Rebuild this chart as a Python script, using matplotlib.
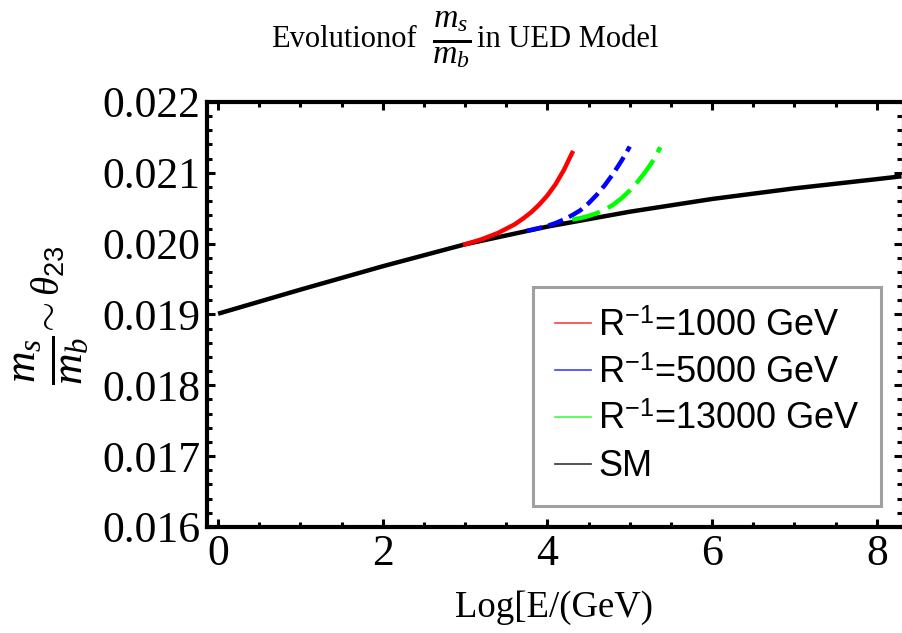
import matplotlib
matplotlib.use("Agg")
import matplotlib.pyplot as plt
from matplotlib.ticker import MultipleLocator
from matplotlib.lines import Line2D

# ---- data ----
sm_x = [0.0, 1.0, 2.0, 3.0, 4.0, 5.0, 6.0, 7.0, 8.0, 8.3]
sm_y = [0.01901, 0.01935, 0.01968, 0.01999, 0.02024, 0.02045, 0.02063, 0.02078, 0.02091, 0.02095]

red_x = [3.0, 3.2, 3.4, 3.6, 3.7, 3.8, 3.9, 4.0, 4.1, 4.2, 4.3]
red_y = [0.01999, 0.02006, 0.02015, 0.02027, 0.02035, 0.02044, 0.02055, 0.02068, 0.02084, 0.02104, 0.02128]

blue_x = [3.75, 3.9, 4.0, 4.1, 4.2, 4.3, 4.4, 4.5, 4.6, 4.7, 4.8, 4.9, 5.0]
blue_y = [0.02018, 0.02022, 0.02025, 0.02029, 0.02034, 0.02040, 0.02047, 0.02057, 0.02069, 0.02083, 0.02099, 0.02117, 0.02137]

green_x = [4.3, 4.4, 4.5, 4.6, 4.7, 4.8, 4.9, 5.0, 5.1, 5.2, 5.3, 5.37]
green_y = [0.02034, 0.02036, 0.02039, 0.02043, 0.02048, 0.02055, 0.02064, 0.02075, 0.02088, 0.02103, 0.02120, 0.02136]

labels = [r"R$^{-1}$=1000 GeV", r"R$^{-1}$=5000 GeV", r"R$^{-1}$=13000 GeV", "SM"]
xticks = [0, 2, 4, 6, 8]
yticks = [0.016, 0.017, 0.018, 0.019, 0.020, 0.021, 0.022]

plt.rcParams['mathtext.fontset'] = 'custom'
plt.rcParams['mathtext.rm'] = 'Liberation Serif'
plt.rcParams['mathtext.it'] = 'Liberation Serif:italic'

W, H = 902, 633
fig = plt.figure(figsize=(W / 100, H / 100), dpi=100)
ax = fig.add_axes([0.2295, 0.1675, 0.770, 0.6715])

ax.plot(sm_x, sm_y, color='black', lw=3.2, solid_capstyle='butt')
ax.plot(red_x, red_y, color='#ff0000', lw=3.2)
ax.plot(blue_x, blue_y, color='#0000ff', lw=3.2, dashes=(3.5, 1.5))
ax.plot(green_x, green_y, color='#00ff00', lw=3.2, dashes=(6.5, 2.0))

ax.set_xlim(-0.134, 8.30)
ax.set_ylim(0.016, 0.022)
ax.set_xticks(xticks)
ax.set_xticklabels([str(v) for v in xticks])
ax.set_yticks(yticks)
ax.set_yticklabels([f"{v:.3f}" for v in yticks])
ax.xaxis.set_minor_locator(MultipleLocator(0.5))
ax.yaxis.set_minor_locator(MultipleLocator(0.0002))

for s in ['left', 'top', 'bottom']:
    ax.spines[s].set_linewidth(3)
ax.spines['right'].set_linewidth(1)
ax.spines['right'].set_linestyle((0, (2, 2)))
ax.spines['right'].set_color('#999999')

ax.tick_params(which='both', direction='in', top=True, right=True, width=2.2)
ax.tick_params(which='major', length=6)
ax.tick_params(which='minor', length=3.5)
ax.tick_params(axis='both', which='major', labelsize=31.5, pad=5)
for lab in ax.get_xticklabels() + ax.get_yticklabels():
    lab.set_family('Liberation Serif')

ax.set_xlabel("Log[E/(GeV)", family='Liberation Serif', fontsize=26.5, labelpad=12)

# y label: fraction + ~theta_23 (rotated)
fig.text(51 / W, 1 - 360 / H, r"$\frac{m_s}{m_b}$", rotation=90, fontsize=45,
         ha='center', va='center')
fig.text(48 / W, 1 - 291 / H, r"$\sim\theta_{23}$", rotation=90, fontsize=28,
         ha='center', va='center')

# title: text + fraction + text
fig.text(417 / W, 1 - 47 / H, "Evolutionof", ha='right', va='baseline',
         family='Liberation Serif', fontsize=22)
fig.text(452 / W, 1 - 40 / H, r"$\frac{m_s}{m_b}$", ha='center', va='center',
         fontsize=35)
fig.text(477 / W, 1 - 47 / H, "in UED Model", ha='left', va='baseline',
         family='Liberation Serif', fontsize=22)

handles = [Line2D([], [], color='#ff4040', lw=1.2),
           Line2D([], [], color='#4040ff', lw=1.2),
           Line2D([], [], color='#40ff40', lw=1.2),
           Line2D([], [], color='#333333', lw=1.2)]
plt.rcParams['mathtext.rm'] = 'Liberation Sans'
leg = ax.legend(handles, labels, loc='upper left',
                bbox_to_anchor=(533 / W, 1 - 287 / H), bbox_transform=fig.transFigure,
                borderaxespad=0,
                prop={'family': 'Liberation Sans', 'size': 26}, frameon=True,
                fancybox=False, handlelength=1.0, handletextpad=0.2,
                labelspacing=0.33, borderpad=0.6)
leg.get_frame().set_edgecolor('#888888')
leg.get_frame().set_linewidth(2.2)

fig.savefig("out.png", dpi=100)
